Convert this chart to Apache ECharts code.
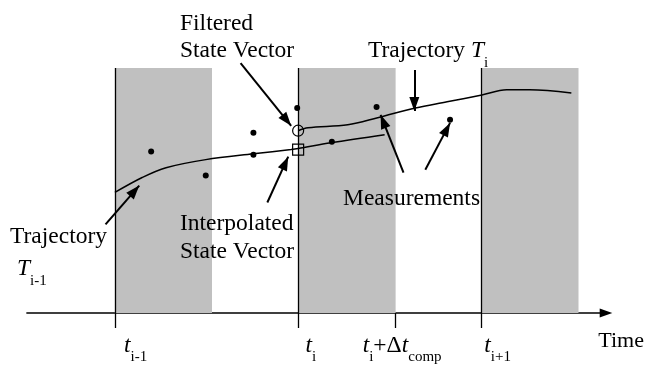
<!DOCTYPE html>
<html>
<head>
<meta charset="utf-8">
<script src="https://cdn.jsdelivr.net/npm/echarts@6/dist/echarts.min.js"></script>
<style>
  html, body { margin: 0; padding: 0; background: #fff; }
  #chart { width: 647px; height: 365px; }
</style>
</head>
<body>
<div id="chart"></div>
<script>
// time axis: t(i-1) = 1, t(i) = 2, t(i+1) = 3
const tickTimes = [1, 2, 2.532, 3]
const labelTimes = [1.05, 2.04, 2.352, 3.016]
const tickLabels = ['{t|t}{s|i-1}', '{t|t}{s|i}', '{t|t}{s|i}{n|+Δ}{t|t}{s|comp}', '{t|t}{s|i+1}']
const bands = [[1, 1.53], [2, 2.532], [3, 3.53]]
const epochs = [1, 2, 3]

// trajectories
const trajPrev = [[1.0, 4.92], [1.149, 5.53], [1.279, 5.93], [1.496, 6.26], [1.756, 6.5], [1.962, 6.67], [2.0, 6.71], [2.179, 6.95], [2.472, 7.28]]
const trajCur = [[2.0, 7.44], [2.054, 7.56], [2.271, 7.68], [2.434, 7.97], [2.64, 8.37], [2.813, 8.62], [3.003, 8.9], [3.138, 9.11], [3.263, 9.11], [3.491, 8.98]]
const measurements = [[1.198, 6.59], [1.496, 5.61], [1.756, 7.36], [1.756, 6.46], [1.995, 8.37], [2.184, 6.99], [2.428, 8.41], [2.829, 7.89]]
const filteredState = [[2.0, 7.44]]
const interpolatedState = [[2.0, 6.67]]

// annotation arrows: [from, tip]
const arrows = [
  [[1.686, 10.2], [1.962, 7.64]],
  [[1.832, 4.51], [1.946, 6.38]],
  [[0.949, 3.62], [1.133, 5.2]],
  [[2.634, 9.92], [2.634, 8.25]],
  [[2.575, 5.73], [2.45, 8.09]],
  [[2.694, 5.85], [2.829, 7.76]]
]

const FONT = 'Liberation Serif'
const rich = {
  r: { fontFamily: FONT, fontSize: 23.5, lineHeight: 27, verticalAlign: 'top', color: '#000' },
  it: { fontFamily: FONT, fontSize: 23.5, lineHeight: 27, verticalAlign: 'top', fontStyle: 'italic', color: '#000' },
  s: { fontFamily: FONT, fontSize: 15, lineHeight: 15, verticalAlign: 'top', padding: [16, 0, 0, 0], color: '#000' }
}
const tickRich = { t: { ...rich.it }, n: { ...rich.r }, s: { ...rich.s } }

// arrow head whose tip sits at the line end (empty move keeps the box centred on the tip)
const HEAD = 'path://M0,0 M5,13 L10,26 L0,26 Z'

// baseline -> top of the text box
const txt = (text, left, baseline) => ({
  type: 'text', x: left, y: baseline - 17.8, z: 100, silent: true,
  style: { text, rich, verticalAlign: 'top', fontFamily: FONT, fontSize: 23.5, fill: '#000' }
})

const chart = echarts.init(document.getElementById('chart'))
chart.setOption({
  animation: false,
  grid: { left: 26.9, right: 37.5, top: 68, bottom: 51 },
  xAxis: {
    type: 'value', min: 0.52, max: 3.68,
    name: 'Time', nameLocation: 'end', nameGap: 38,
    nameTextStyle: { fontFamily: FONT, fontSize: 22, color: '#000', align: 'right', verticalAlign: 'top', lineHeight: 27, padding: [15, 0, 0, 0] },
    axisLine: { lineStyle: { color: '#000', width: 1.5 }, symbol: ['none', 'path://M5,0 L10,14 L0,14 Z'], symbolSize: [9, 13] },
    axisTick: { customValues: tickTimes, length: 15, lineStyle: { color: '#000', width: 1.3 } },
    axisLabel: {
      customValues: labelTimes, margin: 21, align: 'left', verticalAlign: 'top',
      formatter: v => {
        let k = 0
        labelTimes.forEach((t, i) => { if (Math.abs(t - v) < Math.abs(labelTimes[k] - v)) k = i })
        return tickLabels[k]
      },
      rich: tickRich
    },
    splitLine: { show: false }
  },
  yAxis: { type: 'value', min: 0, max: 10, show: false },
  graphic: [
    txt('{r|Filtered}', 180, 30),
    txt('{r|State Vector}', 180, 57),
    txt('{r|Trajectory }{it|T}{s|i}', 368, 57),
    txt('{r|Measurements}', 343, 205),
    txt('{r|Interpolated}', 180, 230),
    txt('{r|State Vector}', 180, 258),
    txt('{r|Trajectory}', 10, 243),
    txt('{it|T}{s|i-1}', 17, 275)
  ],
  series: [
    {
      type: 'line', data: [], z: 0, silent: true,
      markArea: {
        silent: true,
        itemStyle: { color: '#c0c0c0', opacity: 1 },
        data: bands.map(b => [{ xAxis: b[0] }, { xAxis: b[1] }])
      }
    },
    {
      type: 'lines', coordinateSystem: 'cartesian2d', z: 3, silent: true, clip: false,
      lineStyle: { color: '#000', width: 1.3, opacity: 1 },
      data: epochs.map(t => ({ coords: [[t, 0], [t, 10]] }))
    },
    {
      type: 'line', data: trajPrev, smooth: 0.35, showSymbol: false, z: 4, silent: true,
      lineStyle: { color: '#000', width: 1.5 }
    },
    {
      type: 'line', data: trajCur, smooth: 0.35, showSymbol: false, z: 4, silent: true,
      lineStyle: { color: '#000', width: 1.5 }
    },
    {
      type: 'scatter', data: measurements, symbol: 'circle', symbolSize: 6, z: 5, silent: true,
      itemStyle: { color: '#000', opacity: 1 }
    },
    {
      type: 'scatter', data: filteredState, symbol: 'circle', symbolSize: 11, z: 5, silent: true,
      itemStyle: { color: 'rgba(0,0,0,0)', borderColor: '#000', borderWidth: 1.2, opacity: 1 }
    },
    {
      type: 'scatter', data: interpolatedState, symbol: 'rect', symbolSize: 11, z: 5, silent: true,
      itemStyle: { color: 'rgba(0,0,0,0)', borderColor: '#000', borderWidth: 1.2, opacity: 1 }
    },
    {
      type: 'lines', coordinateSystem: 'cartesian2d', z: 6, silent: true, clip: false,
      symbol: ['none', HEAD], symbolSize: [[10, 28], [10, 28]],
      lineStyle: { color: '#000', width: 2, opacity: 1 },
      data: arrows.map(a => ({ coords: a }))
    }
  ]
})
</script>
</body>
</html>
